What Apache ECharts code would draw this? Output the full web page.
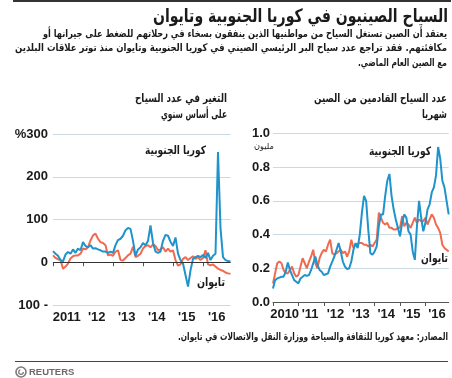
<!DOCTYPE html>
<html><head><meta charset="utf-8">
<script src="https://cdn.jsdelivr.net/npm/echarts@6/dist/echarts.min.js"></script>
<style>html,body{margin:0;padding:0;background:#fff}#c{width:452px;height:378px}</style>
</head><body><div id="c"></div>
<script>
// ---- Data ----
const leftYearLabels = ['2011', "'12", "'13", "'14", "'15", "'16"];
const rightYearLabels = ['2010', "'11", "'12", "'13", "'14", "'15", "'16"];
const leftYTickLabels = ['100 -', '0', '100', '200', '%300'];
const rightYTickLabels = ['0.0', '0.2', '0.4', '0.6', '0.8', '1.0'];

// Year-on-year change (%), monthly Jan 2011 - Dec 2016
const koreaYoY = [
  26, 20, 15, 5, 2, 18, 24, 20, 30, 22, 32, 28,
  47, 38, 35, 40, 32, 33, 30, 28, 25, 25, 22, 25,
  22, 40, 52, 55, 62, 75, 80, 78, 50, 15, 30, 35,
  45, 40, 50, 86, 45, 25, 22, 25, 50, 64, 62, 48,
  38, 58, 20, 5, -3, -30, -57, -19, 8, 12, 15, 12,
  17, 10, 22, 5, 15, 20, 258, 80, 12, 5, 3, 2
];
const taiwanYoY = [
  16, 10, 7, 5, -15, -10, -3, 9, 14, 16, 16, 20,
  32, 30, 35, 51, 63, 67, 55, 47, 45, 40, 16, 18,
  15, 25, 28, 5, 4, 10, 16, 20, 36, 12, 15, 20,
  32, 38, 40, 35, 42, 38, 28, 30, 35, 25, 32, 25,
  28, 5, -8, -5, 8, 12, 5, 10, 14, 8, 12, 5,
  10, 28, -5, -7, -5, -10, -15, -18, -20, -24, -26, -27
];
// Monthly arrivals from China (millions), Jan 2010 - Dec 2016
const koreaMonthly = [
  0.08, 0.13, 0.14, 0.145, 0.15, 0.15, 0.18, 0.235, 0.19, 0.16, 0.13, 0.12,
  0.11, 0.14, 0.15, 0.16, 0.155, 0.16, 0.19, 0.23, 0.27, 0.22, 0.19, 0.18,
  0.16, 0.165, 0.17, 0.21, 0.24, 0.27, 0.31, 0.35, 0.30, 0.24, 0.21, 0.195,
  0.20, 0.24, 0.31, 0.35, 0.32, 0.40, 0.53, 0.63, 0.60, 0.43, 0.29, 0.28,
  0.30, 0.33, 0.45, 0.52, 0.52, 0.63, 0.72, 0.76, 0.63, 0.55, 0.49, 0.44,
  0.39, 0.47, 0.52, 0.50, 0.42, 0.40, 0.30, 0.25, 0.45, 0.60, 0.50, 0.42,
  0.47, 0.55, 0.58, 0.65, 0.68, 0.75, 0.92, 0.85, 0.72, 0.68, 0.60, 0.52
];
const taiwanMonthly = [
  0.11, 0.17, 0.23, 0.24, 0.23, 0.19, 0.17, 0.17, 0.19, 0.21, 0.17, 0.15,
  0.16, 0.21, 0.26, 0.23, 0.20, 0.24, 0.27, 0.31, 0.23, 0.20, 0.26, 0.29,
  0.31, 0.30, 0.34, 0.37, 0.29, 0.28, 0.29, 0.30, 0.31, 0.29, 0.30, 0.27,
  0.30, 0.37, 0.32, 0.34, 0.345, 0.35, 0.35, 0.34, 0.34, 0.33, 0.34, 0.33,
  0.35, 0.37, 0.53, 0.50, 0.47, 0.46, 0.47, 0.44, 0.44, 0.43, 0.43, 0.44,
  0.44, 0.51, 0.45, 0.47, 0.46, 0.44, 0.47, 0.50, 0.47, 0.49, 0.48, 0.48,
  0.50, 0.46, 0.49, 0.52, 0.50, 0.46, 0.44, 0.41, 0.34, 0.32, 0.31, 0.30
];

// ---- Texts ----
const RLM = '\u200F';
const titleText = 'السياح الصينيون في كوريا الجنوبية وتايوان';
const subLines = [
  'يعتقد أن الصين تستغل السياح من مواطنيها الذين ينفقون بسخاء في رحلاتهم للضغط على جيرانها أو',
  'مكافئتهم. فقد تراجع عدد سياح البر الرئيسي الصيني في كوريا الجنوبية وتايوان منذ توتر علاقات البلدين',
  'مع الصين العام الماضي.' + RLM
];
const leftTitle = ['التغير في عدد السياح', 'على أساس سنوي'];
const rightTitle = ['عدد السياح القادمين من الصين', 'شهريا'];
const korLabel = 'كوريا الجنوبية';
const twLabel = 'تايوان';
const unitLabel = 'مليون';
const sourceText = 'المصادر: معهد كوريا للثقافة والسياحة ووزارة النقل والاتصالات في تايوان.' + RLM;

const BLUE = '#1f93cb', RED = '#f06a50', GRID = '#cbd9e2', INK = '#1a1a1a';
const AR = '"DejaVu Sans", sans-serif';
const NUM = '"Liberation Sans", Arial, sans-serif';

const mctx = document.createElement('canvas').getContext('2d');
function measure(text, font) { mctx.font = font; return mctx.measureText(text).width; }

// Arabic text: drawn at a given size, horizontally scaled so its width matches the reference layout
function ar(text, x, y, size, targetW, opts) {
  opts = opts || {};
  const font = (opts.weight || 'bold') + ' ' + size + 'px ' + AR;
  const w = measure(text, font);
  const sx = targetW ? Math.min(1, targetW / w) : 1;
  return {
    type: 'text', x: x, y: y, scaleX: sx, silent: true, z: 10,
    style: { text: text, fill: INK, font: font, textAlign: opts.align || 'right', textVerticalAlign: 'middle' }
  };
}

const graphics = [
  { type: 'rect', shape: { x: 13, y: 0, width: 438, height: 2 }, style: { fill: '#333' }, silent: true },
  ar(titleText, 448, 17, 18.5, 295),
  ar(subLines[0], 447, 34, 10.5, 404),
  ar(subLines[1], 447, 48.5, 10.5, 432),
  ar(subLines[2], 447, 63, 10.5, 89),
  ar(leftTitle[0], 227, 99, 11.5, 92),
  ar(leftTitle[1], 227, 115, 11.5, 66),
  ar(rightTitle[0], 447, 99, 11.5, 133),
  ar(rightTitle[1], 447, 115, 11.5, 25),
  ar(korLabel, 206, 151, 11.5, 61),
  ar(korLabel, 431, 152, 11.5, 62),
  ar(twLabel, 225, 283, 11.5, 28),
  ar(twLabel, 448, 259, 11.5, 27),
  ar(unitLabel, 264, 147, 8.5, 20, { align: 'center', weight: 'normal' }),
  ar(sourceText, 448, 337, 10.5, 270),
  { type: 'rect', shape: { x: 15, y: 361, width: 433, height: 1 }, style: { fill: '#444' }, silent: true },
  { type: 'circle', shape: { cx: 21, cy: 372, r: 5 }, style: { fill: 'none', stroke: '#7a7a7a', lineWidth: 1.6 }, silent: true },
  { type: 'arc', shape: { cx: 21, cy: 372, r: 2.3, startAngle: 0, endAngle: Math.PI * 1.4 }, style: { fill: 'none', stroke: '#7a7a7a', lineWidth: 1.3 }, silent: true },
  { type: 'text', x: 29, y: 372, silent: true, style: { text: 'REUTERS', fill: '#6a6a6a', font: 'bold 9.5px ' + NUM, textAlign: 'left', textVerticalAlign: 'middle' } }
];

const leftTicks = leftYearLabels.map((_, i) => i * 12);
const leftLabelPos = leftYearLabels.map((_, i) => i * 12 + 5.5);
const rightTicks = rightYearLabels.map((_, i) => i * 12);
const rightLabelPos = rightYearLabels.map((_, i) => i * 12 + 5.5);

const numLabel = { fontFamily: NUM, fontWeight: 'bold', fontSize: 13, color: INK };

const option = {
  animation: false,
  graphic: graphics,
  grid: [
    { left: 53, top: 134, width: 177.5, height: 171 },
    { left: 273, top: 133.5, width: 175.7, height: 168.5 }
  ],
  xAxis: [
    {
      gridIndex: 0, type: 'value', min: 0, max: koreaYoY.length - 1,
      axisLine: { show: true, lineStyle: { color: GRID, width: 1 } },
      axisTick: { show: true, customValues: leftTicks, length: 4, lineStyle: { color: '#555' } },
      axisLabel: Object.assign({ customValues: leftLabelPos, margin: 6,
        formatter: v => leftYearLabels[Math.round((v - 5.5) / 12)] }, numLabel),
      splitLine: { show: false }
    },
    {
      gridIndex: 1, type: 'value', min: 0, max: koreaMonthly.length - 1,
      axisLine: { show: true, lineStyle: { color: '#555', width: 1 } },
      axisTick: { show: true, customValues: rightTicks, length: 4, lineStyle: { color: '#555' } },
      axisLabel: Object.assign({ customValues: rightLabelPos, margin: 6,
        formatter: v => rightYearLabels[Math.round((v - 5.5) / 12)] }, numLabel),
      splitLine: { show: false }
    }
  ],
  yAxis: [
    {
      gridIndex: 0, type: 'value', min: -100, max: 300, interval: 100,
      axisLine: { show: false }, axisTick: { show: false },
      axisLabel: Object.assign({ margin: 5,
        formatter: v => leftYTickLabels[Math.round((v + 100) / 100)] }, numLabel),
      splitLine: { show: true, lineStyle: { color: GRID, width: 1 } }
    },
    {
      gridIndex: 1, type: 'value', min: 0, max: 1, interval: 0.2,
      axisLine: { show: false }, axisTick: { show: false },
      axisLabel: Object.assign({ margin: 3,
        formatter: v => rightYTickLabels[Math.round(v / 0.2)] }, numLabel),
      splitLine: { show: true, lineStyle: { color: GRID, width: 1 } }
    }
  ],
  series: [
    {
      type: 'line', xAxisIndex: 0, yAxisIndex: 0, showSymbol: false, silent: true,
      data: taiwanYoY.map((v, i) => [i, v]),
      lineStyle: { color: RED, width: 2 }, itemStyle: { color: RED },
      markLine: { silent: true, symbol: 'none', label: { show: false },
        lineStyle: { color: '#333', width: 1, type: 'solid' }, data: [{ yAxis: 0 }] }
    },
    {
      type: 'line', xAxisIndex: 0, yAxisIndex: 0, showSymbol: false, silent: true,
      data: koreaYoY.map((v, i) => [i, v]),
      lineStyle: { color: BLUE, width: 2 }, itemStyle: { color: BLUE }
    },
    {
      type: 'line', xAxisIndex: 1, yAxisIndex: 1, showSymbol: false, silent: true,
      data: taiwanMonthly.map((v, i) => [i, v]),
      lineStyle: { color: RED, width: 2 }, itemStyle: { color: RED }
    },
    {
      type: 'line', xAxisIndex: 1, yAxisIndex: 1, showSymbol: false, silent: true,
      data: koreaMonthly.map((v, i) => [i, v]),
      lineStyle: { color: BLUE, width: 2 }, itemStyle: { color: BLUE }
    }
  ]
};

const chart = echarts.init(document.getElementById('c'), null, { renderer: 'canvas' });
chart.setOption(option);
</script>
</body></html>
